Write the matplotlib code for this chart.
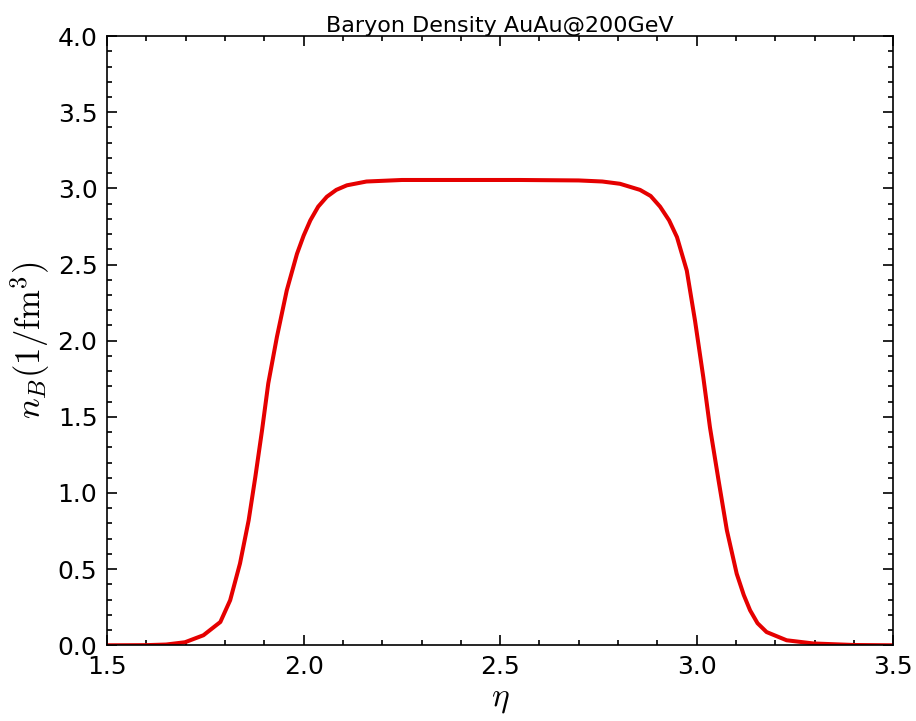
import matplotlib
matplotlib.use("Agg")
import matplotlib.pyplot as plt
from matplotlib.ticker import MultipleLocator

plt.rcParams['mathtext.fontset'] = 'cm'
plt.rcParams['font.family'] = ['DejaVu Sans']

eta = [1.500, 1.600, 1.650, 1.698, 1.745, 1.788, 1.813, 1.838, 1.860, 1.877, 1.894,
       1.910, 1.932, 1.957, 1.983, 2.000, 2.017, 2.037, 2.059, 2.083, 2.110, 2.160,
       2.250, 2.400, 2.550, 2.700, 2.760, 2.805, 2.856, 2.883, 2.907, 2.930, 2.950,
       2.975, 2.996, 3.017, 3.034, 3.056, 3.077, 3.102, 3.120, 3.136, 3.155, 3.178,
       3.229, 3.297, 3.400, 3.500]
n_B = [0.0, 0.001, 0.005, 0.02, 0.066, 0.153, 0.296, 0.537, 0.82, 1.105, 1.41,
       1.72, 2.025, 2.33, 2.57, 2.69, 2.79, 2.88, 2.945, 2.99, 3.02, 3.045,
       3.055, 3.055, 3.055, 3.052, 3.045, 3.03, 2.99, 2.95, 2.88, 2.79, 2.68,
       2.46, 2.13, 1.76, 1.43, 1.08, 0.755, 0.47, 0.33, 0.23, 0.145, 0.087,
       0.033, 0.012, 0.002, 0.0]

fig = plt.figure(figsize=(9.16, 7.21), dpi=100)
ax = fig.add_axes([0.117, 0.105, 0.858, 0.845])
ax.plot(eta, n_B, color='#e50000', lw=2.9)
ax.set_xlim(1.5, 3.5)
ax.set_ylim(0, 4.0)
ax.xaxis.set_major_locator(MultipleLocator(0.5))
ax.xaxis.set_minor_locator(MultipleLocator(0.1))
ax.yaxis.set_major_locator(MultipleLocator(0.5))
ax.yaxis.set_minor_locator(MultipleLocator(0.1))
ax.tick_params(which='both', direction='in', top=True, right=True, width=1.2)
ax.tick_params(which='major', length=7, labelsize=18, pad=7)
ax.tick_params(which='minor', length=3.5)
for s in ax.spines.values():
    s.set_linewidth(1.2)
ax.set_title('Baryon Density AuAu@200GeV', fontsize=16, pad=3)
ax.set_xlabel(r'$\eta$', fontsize=24, labelpad=2)
ax.set_ylabel(r'$n_B(1/\mathrm{fm}^3)$', fontsize=25, labelpad=4)
fig.savefig('out.png', dpi=100)
